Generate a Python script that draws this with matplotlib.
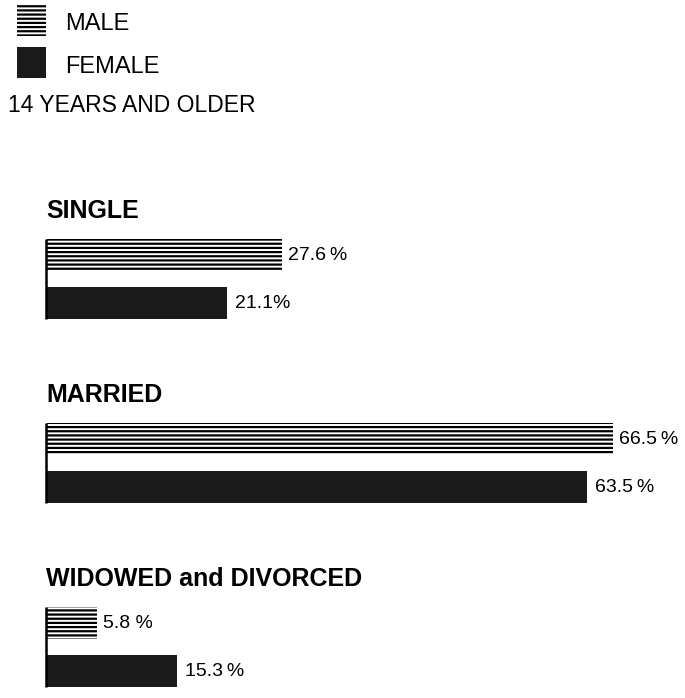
import matplotlib
matplotlib.use("Agg")
import matplotlib.pyplot as plt
from matplotlib.patches import Rectangle

# ---- data ----
categories = ["SINGLE", "MARRIED", "WIDOWED and DIVORCED"]
male = [27.6, 66.5, 5.8]
female = [21.1, 63.5, 15.3]
male_labels = ["27.6\u2009%", "66.5\u2009%", "5.8 %"]
female_labels = ["21.1%", "63.5\u2009%", "15.3\u2009%"]
legend_names = ["MALE", "FEMALE"]
subtitle = "14 YEARS AND OLDER"

# ---- style ----
plt.rcParams['font.family'] = ['Liberation Sans', 'DejaVu Sans']
plt.rcParams['hatch.linewidth'] = 1.6
W, H, DPI = 685, 698, 100
fig = plt.figure(figsize=(W / DPI, H / DPI), dpi=DPI)
fig.patch.set_facecolor('white')

PX_PER_PCT = 8.5
X0 = 46
ax = fig.add_axes([0, 0, 1, 1])
ax.set_xlim(-X0 / PX_PER_PCT, (W - X0) / PX_PER_PCT)
ax.set_ylim(H, 0)
ax.axis('off')

MALE_HATCH = '----'
FEMALE_COLOR = '#1a1a1a'
BAR_H = 32
first_top = 239
group_step = 184
fem_off = 48

for i, cat in enumerate(categories):
    mtop = first_top + i * group_step
    mcen = mtop + BAR_H / 2
    fcen = mcen + fem_off
    ax.barh(mcen, male[i], height=BAR_H, left=0.15, color='white',
            edgecolor='black', linewidth=0, hatch=MALE_HATCH)
    ax.barh(fcen, female[i], height=BAR_H, left=0.15, color=FEMALE_COLOR,
            edgecolor=FEMALE_COLOR, linewidth=0)
    ax.vlines(0, mtop, fcen + BAR_H / 2, color='black', linewidth=1.8)
    ax.text(0, mtop - 21, cat, fontsize=18, fontweight='bold',
            va='baseline', ha='left')
    ax.annotate(male_labels[i], (male[i] + 0.15, mcen), xytext=(6, 0),
                textcoords='offset pixels', va='center', ha='left', fontsize=14)
    ax.annotate(female_labels[i], (female[i] + 0.15, fcen), xytext=(8, 0),
                textcoords='offset pixels', va='center', ha='left', fontsize=14)

# ---- legend ----
def fx(px):
    return px / W

def fy(py):
    return 1 - py / H

fig.add_artist(Rectangle((fx(17), fy(36)), 29 / W, 31 / H, transform=fig.transFigure,
                         facecolor='white', edgecolor='black', linewidth=0,
                         hatch=MALE_HATCH))
fig.add_artist(Rectangle((fx(17), fy(78)), 29 / W, 31 / H, transform=fig.transFigure,
                         facecolor=FEMALE_COLOR, edgecolor=FEMALE_COLOR, linewidth=0))
fig.text(fx(65), fy(30), legend_names[0], fontsize=17, va='baseline', ha='left')
fig.text(fx(65), fy(73), legend_names[1], fontsize=17, va='baseline', ha='left')
fig.text(fx(8), fy(112), subtitle, fontsize=16.5, va='baseline', ha='left')

fig.savefig("out.png", dpi=DPI)
